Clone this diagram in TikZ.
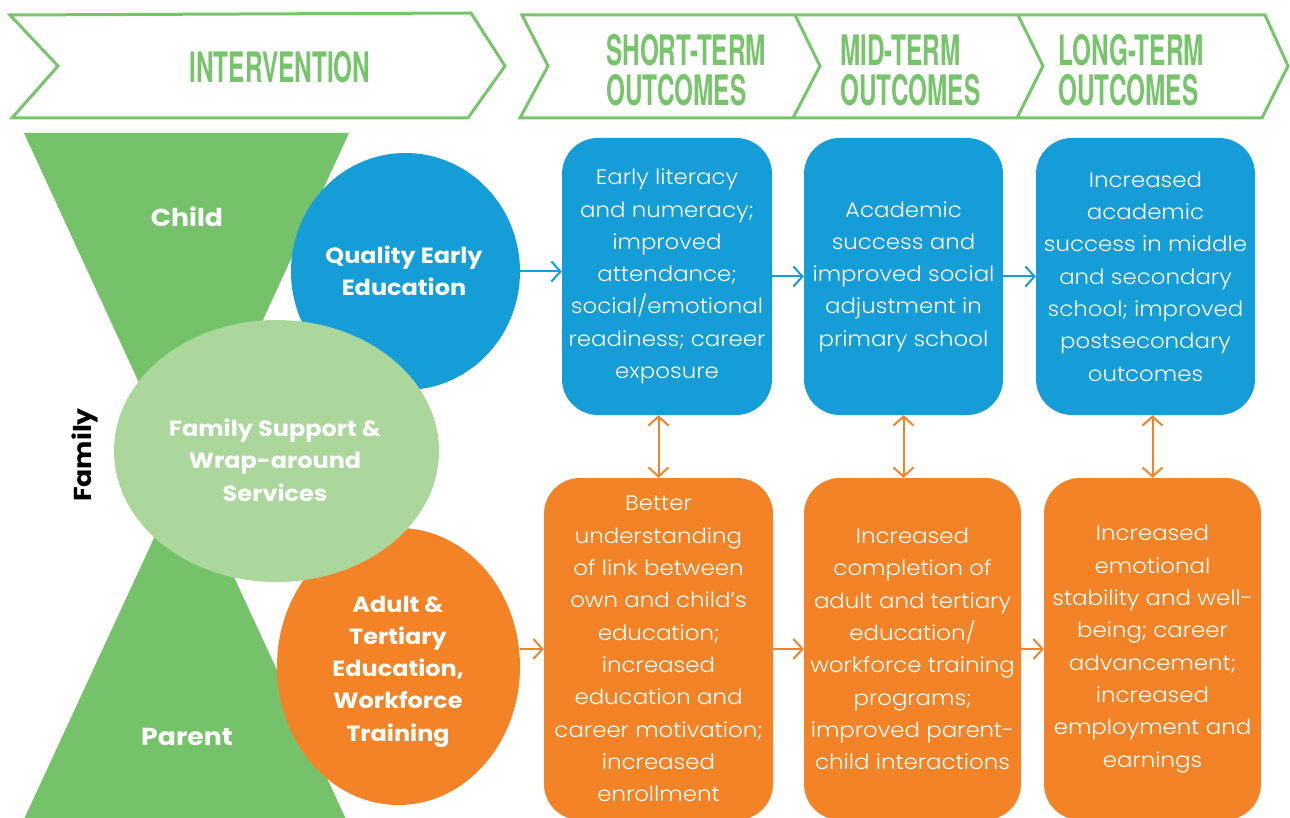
\documentclass[tikz,border=0pt]{standalone}
\usepackage{fontspec}
\setmainfont{Poppins}[FakeStretch=1.09]
\newfontfamily\lightfont{Poppins Light}[FakeStretch=1.09]
\newfontfamily\hdrfont[FakeStretch=0.58]{TeX Gyre Heros}
\usetikzlibrary{arrows.meta,shapes.geometric}
\definecolor{hgreen}{HTML}{78C46C}
\definecolor{tgreen}{HTML}{76C26B}
\definecolor{lgreen}{HTML}{ABD79D}
\definecolor{cblue}{HTML}{149DD7}
\definecolor{corange}{HTML}{F38326}
\tikzset{
  hdrline/.style={draw=hgreen, line width=3pt, line join=miter},
  hdrtext/.style={text=hgreen, font=\hdrfont\bfseries\fontsize{42}{40}\selectfont, inner sep=0pt},
  bodytext/.style={font=\lightfont\fontsize{21}{32.3}\selectfont, text=white, align=center},
  obox/.style={bodytext, rounded corners=36pt, inner sep=0pt},
  ell/.style={ellipse, inner sep=0pt},
  bold/.style={font=\bfseries\fontsize{22}{32.3}\selectfont, text=white, align=center},
  arr/.style={line width=2pt, -{Straight Barb[length=9pt,width=20pt,line width=2pt]}},
  darr/.style={line width=2pt, {Straight Barb[length=9pt,width=20pt,line width=2pt]}-{Straight Barb[length=9pt,width=20pt,line width=2pt]}}
}
\begin{document}
\begin{tikzpicture}[x=1pt,y=-1pt]
\useasboundingbox (0,0) rectangle (1290,818);
% header chevrons
\draw[hdrline] (10,15) -- (471,13) -- (505,66) -- (468,118) -- (12,118) -- (58,66) -- cycle;
\draw[hdrline] (522,15) -- (1265,15) -- (1288,66) -- (1262,118) -- (520,118) -- (548,66) -- cycle;
\draw[hdrline] (795,15) -- (820,66) -- (793,118);
\draw[hdrline] (1018,15) -- (1043,66) -- (1017,118);
\node[hdrtext] (hint) at (280,67) {INTERVENTION};
\node[hdrtext, anchor=west, align=left] (hshort) at (606,70) {SHORT-TERM\\OUTCOMES};
\node[hdrtext, anchor=west, align=left] (hmid) at (840,70) {MID-TERM\\OUTCOMES};
\node[hdrtext, anchor=west, align=left] (hlong) at (1058,70) {LONG-TERM\\OUTCOMES};
% triangles
\fill[tgreen] (24,133) -- (349,133) -- (186.5,486) -- cycle;
\fill[tgreen] (185,471) -- (351,830) -- (19,830) -- cycle;
% ellipses
\node[ell, fill=cblue, minimum width=229pt, minimum height=237pt] (qee) at (405.5,271.5) {};
\node[ell, fill=corange, minimum width=243pt, minimum height=277pt] (ate) at (398.5,666.5) {};
\node[ell, fill=lgreen, minimum width=325pt, minimum height=262pt] (fsw) at (276.5,451) {};
\node[bold] (qeet) at (404,271) {Quality Early\\Education};
\node[bold] (atet) at (398,671.5) {Adult \&\\Tertiary\\Education,\\Workforce\\Training};
\node[bold] (fswt) at (275,460) {Family Support \&\\Wrap-around\\Services};
\node[bold, font=\bfseries\fontsize{24.5}{30}\selectfont] (child) at (187,217) {Child};
\node[bold, font=\bfseries\fontsize{24.5}{30}\selectfont] (parent) at (187,737) {Parent};
\node[bold, text=black, rotate=90, font=\bfseries\fontsize{24.5}{30}\selectfont] (family) at (85,455) {Family};
% outcome boxes
\node[obox, fill=cblue, minimum width=210pt, minimum height=277pt] (b1) at (667,276.5)
  {Early literacy\\and numeracy;\\improved\\attendance;\\social/emotional\\readiness; career\\exposure};
\node[obox, fill=cblue, minimum width=199pt, minimum height=277pt] (b2) at (903.5,276.5)
  {Academic\\success and\\improved social\\adjustment in\\primary school};
\node[obox, fill=cblue, minimum width=219pt, minimum height=277pt] (b3) at (1145.5,276.5)
  {Increased\\academic\\success in middle\\and secondary\\school; improved\\postsecondary\\outcomes};
\node[obox, fill=corange, minimum width=229pt, minimum height=342pt] (b4) at (658.5,649)
  {Better\\understanding\\of link between\\own and child’s\\education;\\increased\\education and\\career motivation;\\increased\\enrollment};
\node[obox, fill=corange, minimum width=217pt, minimum height=342pt] (b5) at (912.5,649)
  {Increased\\completion of\\adult and tertiary\\education/\\workforce training\\programs;\\improved parent-\\child interactions};
\node[obox, fill=corange, minimum width=217pt, minimum height=342pt] (b6) at (1152.5,649)
  {Increased\\emotional\\stability and well-\\being; career\\advancement;\\increased\\employment and\\earnings};
% arrows
\draw[arr, cblue] (qee.east) -- (qee.east -| b1.west);
\draw[arr, cblue] (b1.east) -- (b2.west);
\draw[arr, cblue] (b2.east) -- (b3.west);
\draw[arr, corange] (b4.west -| ate.east) -- (b4.west);
\draw[arr, corange] (b4.east) -- (b5.west);
\draw[arr, corange] (b5.east) -- (b6.west);
\draw[darr, corange] (b4.north |- b1.south) -- (b4.north);
\draw[darr, corange] (b2.south) -- (b2.south |- b5.north);
\draw[darr, corange] (b6.north |- b3.south) -- (b6.north);
\end{tikzpicture}
\end{document}
